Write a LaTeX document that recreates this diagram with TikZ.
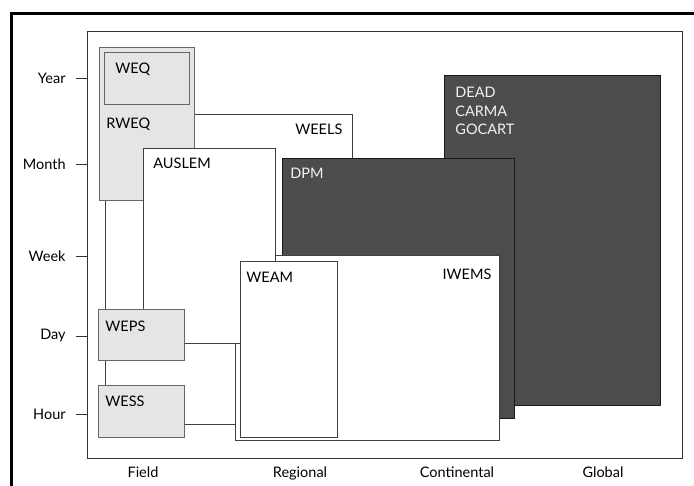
\documentclass[tikz,border=0pt]{standalone}
\usepackage{fontspec}
\setmainfont{Lato}
\usepackage{tikz}
\usetikzlibrary{positioning}

\tikzset{
  openbox/.style={draw=black!75, fill=white, anchor=north west, inner sep=0pt},
  greybox/.style={draw=black!60, fill=black!10, anchor=north west, inner sep=0pt},
  darkbox/.style={draw=black!90, fill=black!70, anchor=north west, inner sep=0pt},
  boxname/.style={inner sep=0pt},
  darkname/.style={inner sep=0pt, text=black!5, align=left},
  scalename/.style={inner sep=0pt},
}

\begin{document}
\begin{tikzpicture}[x=1pt, y=-1pt, line width=0.8pt,
    every node/.style={font=\fontsize{14.5}{18.5}\selectfont}]
  \useasboundingbox (0,0) rectangle (694,486);
  % outer border
  \draw[line width=2.5pt] (11.5,486) -- (11.5,13.5) -- (694,13.5);
  % plot frame
  \node[draw=black!80, minimum width=595, minimum height=427, anchor=north west, inner sep=0pt] (frame) at (87,31) {};

  % time scale
  \coordinate (tyear) at (76,78);
  \coordinate (tmonth) at (76,164);
  \coordinate (tweek) at (76,256);
  \coordinate (tday) at (76,336);
  \coordinate (thour) at (76,414);
  \draw[black!80] (tyear) -- (tyear -| frame.west);
  \draw[black!80] (tmonth) -- (tmonth -| frame.west);
  \draw[black!80] (tweek) -- (tweek -| frame.west);
  \draw[black!80] (tday) -- (tday -| frame.west);
  \draw[black!80] (thour) -- (thour -| frame.west);
  \node[scalename, left=10pt of tyear] (year) {Year};
  \node[scalename, left=10pt of tmonth] (month) {Month};
  \node[scalename, left=10pt of tweek] (week) {Week};
  \node[scalename, left=10pt of tday] (day) {Day};
  \node[scalename, left=10pt of thour] (hour) {Hour};

  % space scale
  \node[scalename, anchor=base] (field) at (143,478) {Field};
  \node[scalename, anchor=base] (regional) at (300,478) {Regional};
  \node[scalename, anchor=base] (continental) at (457,478) {Continental};
  \node[scalename, anchor=base] (global) at (603,478) {Global};

  % models, back to front
  \node[openbox, minimum width=247, minimum height=310] (weels) at (105,114) {};
  \node[darkbox, minimum width=216, minimum height=330] (dead) at (444,75) {};
  \node[darkbox, minimum width=232, minimum height=260] (dpm) at (282,158) {};
  \node[openbox, minimum width=264, minimum height=185] (iwems) at (235,255) {};
  \node[greybox, minimum width=95, minimum height=153] (rweq) at (99,47) {};
  \node[greybox, minimum width=85, minimum height=52] (weq) at (104,52) {};
  \node[openbox, minimum width=132, minimum height=195] (auslem) at (143,148) {};
  \node[greybox, minimum width=86, minimum height=51] (weps) at (98,309) {};
  \node[greybox, minimum width=86, minimum height=52] (wess) at (98,385) {};
  \node[openbox, minimum width=97, minimum height=176] (weam) at (240,261) {};

  % model names
  \node[boxname, below left=10pt and 10pt of weels.north east] (weelsname) {WEELS};
  \node[darkname, below right=12pt and 11pt of dead.north west] (deadname) {DEAD\\CARMA\\GOCART};
  \node[darkname, below right=10pt and 8pt of dpm.north west] (dpmname) {DPM};
  \node[boxname, below left=14pt and 8pt of iwems.north east] (iwemsname) {IWEMS};
  \node[boxname, below right=10pt and 10pt of auslem.north west] (auslemname) {AUSLEM};
  \node[boxname, below right=71pt and 7pt of rweq.north west] (rweqname) {RWEQ};
  \node[boxname, below right=11pt and 11pt of weq.north west] (weqname) {WEQ};
  \node[boxname, below right=12pt and 7pt of weps.north west] (wepsname) {WEPS};
  \node[boxname, below right=11pt and 7pt of wess.north west] (wessname) {WESS};
  \node[boxname, below right=11pt and 6pt of weam.north west] (weamname) {WEAM};
\end{tikzpicture}
\end{document}
